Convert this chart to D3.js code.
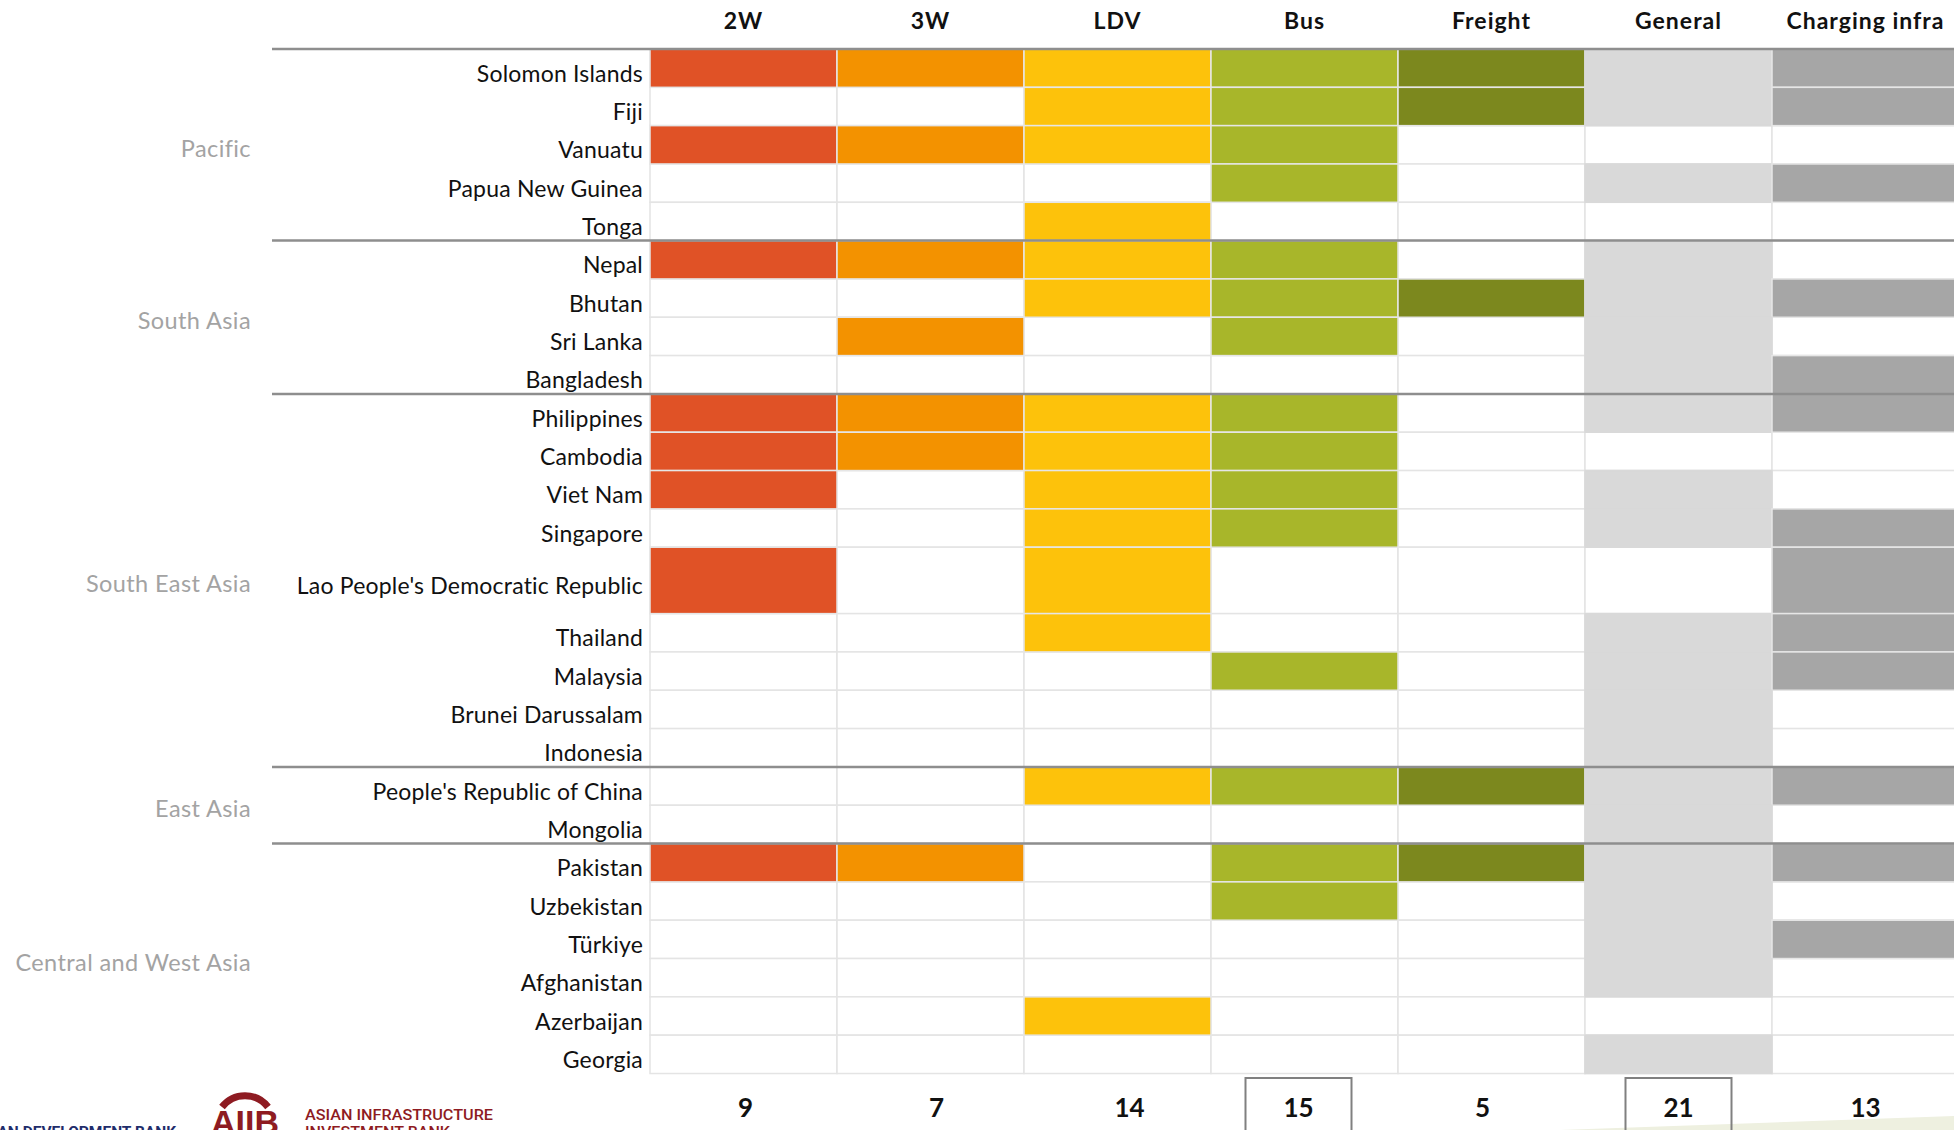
<!DOCTYPE html>
<html>
<head>
<meta charset="utf-8">
<script src="https://cdn.jsdelivr.net/npm/d3@7"></script>
<style>
  html, body { margin: 0; padding: 0; background: #fff; }
  svg { display: block; }
</style>
</head>
<body>
<svg id="chart" width="1954" height="1130"></svg>
<script>
// ---------------- DATA ----------------
const columns = ["2W", "3W", "LDV", "Bus", "Freight", "General", "Charging infra"];
const columnTotals = ["9", "7", "14", "15", "5", "21", "13"];
const highlightedTotals = ["Bus", "General"];

const regions = ["Pacific", "South Asia", "South East Asia", "East Asia", "Central and West Asia"];

const countries = [
  "Solomon Islands", "Fiji", "Vanuatu", "Papua New Guinea", "Tonga",
  "Nepal", "Bhutan", "Sri Lanka", "Bangladesh",
  "Philippines", "Cambodia", "Viet Nam", "Singapore", "Lao People's Democratic Republic",
  "Thailand", "Malaysia", "Brunei Darussalam", "Indonesia",
  "People's Republic of China", "Mongolia",
  "Pakistan", "Uzbekistan", "Türkiye", "Afghanistan", "Azerbaijan", "Georgia"
];
const countryRegion = [
  "Pacific", "Pacific", "Pacific", "Pacific", "Pacific",
  "South Asia", "South Asia", "South Asia", "South Asia",
  "South East Asia", "South East Asia", "South East Asia", "South East Asia", "South East Asia",
  "South East Asia", "South East Asia", "South East Asia", "South East Asia",
  "East Asia", "East Asia",
  "Central and West Asia", "Central and West Asia", "Central and West Asia",
  "Central and West Asia", "Central and West Asia", "Central and West Asia"
];

// 1 = country has a target/policy for the segment, 0 = none (same order as countries)
const twoW     = [1,0,1,0,0, 1,0,0,0, 1,1,1,0,1,0,0,0,0, 0,0, 1,0,0,0,0,0];
const threeW   = [1,0,1,0,0, 1,0,1,0, 1,1,0,0,0,0,0,0,0, 0,0, 1,0,0,0,0,0];
const ldv      = [1,1,1,0,1, 1,1,0,0, 1,1,1,1,1,1,0,0,0, 1,0, 0,0,0,0,1,0];
const bus      = [1,1,1,1,0, 1,1,1,0, 1,1,1,1,0,0,1,0,0, 1,0, 1,1,0,0,0,0];
const freight  = [1,1,0,0,0, 0,1,0,0, 0,0,0,0,0,0,0,0,0, 1,0, 1,0,0,0,0,0];
const general  = [1,1,0,1,0, 1,1,1,1, 1,0,1,1,0,1,1,1,1, 1,1, 1,1,1,1,0,1];
const charging = [1,1,0,1,0, 0,1,0,1, 1,0,0,1,1,1,1,0,0, 1,0, 1,0,1,0,0,0];

const seriesByColumn = [twoW, threeW, ldv, bus, freight, general, charging];
const columnColors = ["#E05226", "#F39200", "#FDC20B", "#A8B62A", "#7C881E", "#D9D9D9", "#A6A6A6"];

// ---------------- LAYOUT ----------------
const W = 1954, H = 1130;
const gridLeft = 650, colW = 187;
const gridTop = 49, gridBottom = 1073.5;
const lineLeft = 272;
const tallRows = new Set(["Lao People's Democratic Republic"]);
const tallWeight = 1.733;
const font = "Lato, 'Open Sans', sans-serif";
// small horizontal nudges of the total labels (as placed in the original)
const totalNudge = [2, 6, 12, -6, -9, 0, 0];

const svg = d3.select("#chart");

// background decoration (pale wedge bottom right)
svg.append("path")
  .attr("d", `M1560,${H} L${W},1116 L${W},${H} Z`)
  .attr("fill", "#EEF0E0");

const x = d3.scaleBand().domain(columns).range([gridLeft, gridLeft + colW * columns.length]).padding(0);

const weights = countries.map(c => tallRows.has(c) ? tallWeight : 1);
const cum = [0];
weights.forEach((w, i) => cum.push(cum[i] + w));
const yUnit = d3.scaleLinear().domain([0, cum[cum.length - 1]]).range([gridTop, gridBottom]);
const rowTop = i => yUnit(cum[i]);
const rowBot = i => yUnit(cum[i + 1]);
const rowMid = i => (rowTop(i) + rowBot(i)) / 2;

const color = d3.scaleOrdinal().domain(columns).range(columnColors);

// cells
const cells = [];
countries.forEach((c, i) => {
  columns.forEach((col, j) => {
    cells.push({ country: c, i, col, v: seriesByColumn[j][i] });
  });
});

const gCells = svg.append("g");
gCells.selectAll("rect.bg").data(cells).join("rect")
  .attr("class", "bg")
  .attr("x", d => x(d.col))
  .attr("y", d => rowTop(d.i))
  .attr("width", x.bandwidth())
  .attr("height", d => rowBot(d.i) - rowTop(d.i))
  .attr("fill", "#fff")
  .attr("stroke", "#E4E4E4")
  .attr("stroke-width", 1.5);

gCells.selectAll("rect.fill").data(cells.filter(d => d.v)).join("rect")
  .attr("class", "fill")
  .attr("x", d => x(d.col))
  .attr("y", d => rowTop(d.i))
  .attr("width", x.bandwidth())
  .attr("height", d => rowBot(d.i) - rowTop(d.i))
  .attr("fill", d => color(d.col))
  .attr("stroke", d => d.col === "General" ? color(d.col) : "#E6E6E6")
  .attr("stroke-width", 1.5);

// group separator lines + header line
const groupStarts = [];
countries.forEach((c, i) => {
  if (i === 0 || countryRegion[i] !== countryRegion[i - 1]) groupStarts.push(i);
});
svg.append("g").selectAll("line").data(groupStarts).join("line")
  .attr("x1", lineLeft).attr("x2", W)
  .attr("y1", d => rowTop(d)).attr("y2", d => rowTop(d))
  .attr("stroke", "#8E8E8E")
  .attr("stroke-width", 2.5);

// column headers
svg.append("g").selectAll("text").data(columns).join("text")
  .attr("x", d => x(d) + x.bandwidth() / 2)
  .attr("y", 29)
  .attr("text-anchor", "middle")
  .attr("font-family", font)
  .attr("font-weight", 700)
  .attr("font-size", 23)
  .attr("letter-spacing", 1)
  .attr("fill", "#111")
  .text(d => d);

// country labels
svg.append("g").selectAll("text").data(countries).join("text")
  .attr("x", 643)
  .attr("y", (d, i) => rowMid(i) + 13.5)
  .attr("text-anchor", "end")
  .attr("font-family", font)
  .attr("font-size", 23)
  .attr("letter-spacing", 0.2)
  .attr("fill", "#111")
  .text(d => d);

// region labels
const regionSpans = regions.map(r => {
  const idx = countries.map((c, i) => i).filter(i => countryRegion[i] === r);
  return { r, top: rowTop(d3.min(idx)), bot: rowBot(d3.max(idx)) };
});
svg.append("g").selectAll("text").data(regionSpans).join("text")
  .attr("x", 251)
  .attr("y", d => (d.top + d.bot) / 2 + 12)
  .attr("text-anchor", "end")
  .attr("font-family", font)
  .attr("font-size", 23.5)
  .attr("letter-spacing", 0.4)
  .attr("fill", "#A3A3A3")
  .text(d => d.r);

// totals
const totals = columns.map((c, j) => ({ col: c, t: columnTotals[j], dx: totalNudge[j] }));
svg.append("g").selectAll("rect").data(totals.filter(d => highlightedTotals.includes(d.col))).join("rect")
  .attr("x", d => x(d.col) + x.bandwidth() / 2 + d.dx - 53)
  .attr("y", 1078)
  .attr("width", 106)
  .attr("height", 70)
  .attr("fill", "none")
  .attr("stroke", "#808080")
  .attr("stroke-width", 2);
svg.append("g").selectAll("text").data(totals).join("text")
  .attr("x", d => x(d.col) + x.bandwidth() / 2 + d.dx)
  .attr("y", 1117)
  .attr("text-anchor", "middle")
  .attr("font-family", font)
  .attr("font-weight", 700)
  .attr("font-size", 26)
  .attr("fill", "#111")
  .text(d => d.t);

// logos (partially cut at bottom, as in the original)
svg.append("text")
  .attr("x", 176).attr("y", 1137)
  .attr("text-anchor", "end")
  .attr("font-family", "Roboto, sans-serif")
  .attr("font-weight", 700)
  .attr("font-size", 15.5)
  .attr("fill", "#1F2D6B")
  .text("ASIAN DEVELOPMENT BANK");

const aiib = "#8E1B22";
svg.append("path")
  .attr("d", "M222,1107 A29,29 0 0,1 268,1107")
  .attr("fill", "none")
  .attr("stroke", aiib)
  .attr("stroke-width", 7);
svg.append("text")
  .attr("x", 211).attr("y", 1134)
  .attr("font-family", "'Liberation Sans', Arial, sans-serif")
  .attr("font-weight", 700)
  .attr("font-size", 34)
  .attr("fill", aiib)
  .text("AIIB");
svg.append("text")
  .attr("x", 305).attr("y", 1120)
  .attr("font-family", "Roboto, sans-serif")
  .attr("font-weight", 500)
  .attr("font-size", 15)
  .attr("textLength", 188)
  .attr("lengthAdjust", "spacingAndGlyphs")
  .attr("fill", aiib)
  .text("ASIAN INFRASTRUCTURE");
svg.append("text")
  .attr("x", 305).attr("y", 1137)
  .attr("font-family", "Roboto, sans-serif")
  .attr("font-weight", 500)
  .attr("font-size", 15)
  .attr("textLength", 145)
  .attr("lengthAdjust", "spacingAndGlyphs")
  .attr("fill", aiib)
  .text("INVESTMENT BANK");
</script>
</body>
</html>
